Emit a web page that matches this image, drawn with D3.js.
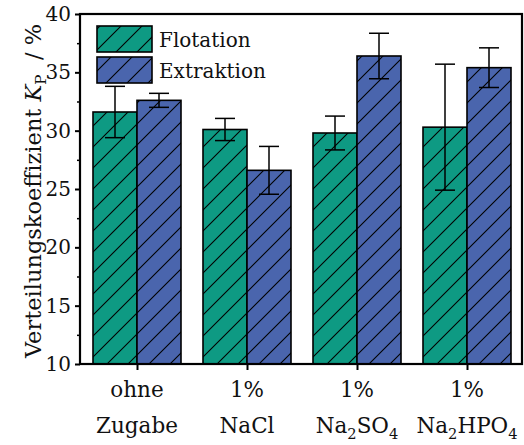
<!DOCTYPE html>
<html>
<head>
<meta charset="utf-8">
<script src="https://cdn.jsdelivr.net/npm/d3@7"></script>
<style>
  html, body { margin: 0; padding: 0; background: #fff; }
  svg { display: block; }
  text { font-family: "DejaVu Serif", "Liberation Serif", serif; fill: #111; }
</style>
</head>
<body>
<svg id="chart" width="524" height="445"></svg>
<script>
// Distribution coefficient K_P per additive, two methods
const categories = ["ohne Zugabe", "1% NaCl", "1% Na2SO4", "1% Na2HPO4"];
const seriesNames = ["Flotation", "Extraktion"];
const flotation = [31.6, 30.1, 29.8, 30.3];
const flotationErr = [2.2, 0.95, 1.45, 5.4];
const extraktion = [32.6, 26.6, 36.4, 35.4];
const extraktionErr = [0.6, 2.05, 1.95, 1.7];
const yTicks = [10, 15, 20, 25, 30, 35, 40];
const yMinorTicks = [12.5, 17.5, 22.5, 27.5, 32.5, 37.5];

const colors = ["#0e9a83", "#4a65ad"];
const values = [flotation, extraktion];
const errors = [flotationErr, extraktionErr];

const svg = d3.select("#chart");
const tickFont = 20, labelFont = 21.5, titleFont = 22.5, legendFont = 20;

const plotLeft = 80, plotRight = 522, plotTop = 14, plotBottom = 364;

const x = d3.scaleBand().domain(categories).range([plotLeft + 2, plotRight]).paddingInner(0.2).paddingOuter(0.1);
const xSub = d3.scaleBand().domain(seriesNames).range([0, x.bandwidth()]);
const y = d3.scaleLinear().domain([10, 40]).range([plotBottom, plotTop]);

// Hatch patterns: diagonal "/" lines over the fill colour
const defs = svg.append("defs");
colors.forEach((c, i) => {
  const p = defs.append("pattern")
    .attr("id", "hatch" + i)
    .attr("patternUnits", "userSpaceOnUse")
    .attr("width", 21).attr("height", 21);
  p.append("rect").attr("width", 21).attr("height", 21).attr("fill", c);
  p.append("path")
    .attr("d", "M-2,2 L2,-2 M0,21 L21,0 M19,23 L23,19")
    .attr("stroke", "#000").attr("stroke-width", 1.1);
});

// Bars
const groups = svg.append("g").selectAll("g").data(categories).join("g")
  .attr("transform", d => `translate(${x(d)},0)`);

seriesNames.forEach((s, si) => {
  groups.append("rect")
    .attr("x", xSub(s))
    .attr("width", xSub.bandwidth())
    .attr("y", (d, i) => y(values[si][i]))
    .attr("height", (d, i) => y(10) - y(values[si][i]))
    .attr("fill", `url(#hatch${si})`)
    .attr("stroke", "#000").attr("stroke-width", 1.6);
});

// Error bars
seriesNames.forEach((s, si) => {
  const g = groups.append("g").attr("stroke", "#000").attr("stroke-width", 1.5);
  const cx = xSub(s) + xSub.bandwidth() / 2;
  g.append("line")
    .attr("x1", cx).attr("x2", cx)
    .attr("y1", (d, i) => y(values[si][i] + errors[si][i]))
    .attr("y2", (d, i) => y(values[si][i] - errors[si][i]));
  [1, -1].forEach(sign => {
    g.append("line")
      .attr("x1", cx - 10).attr("x2", cx + 10)
      .attr("y1", (d, i) => y(values[si][i] + sign * errors[si][i]))
      .attr("y2", (d, i) => y(values[si][i] + sign * errors[si][i]));
  });
});

// Frame
svg.append("rect")
  .attr("x", plotLeft).attr("y", plotTop)
  .attr("width", plotRight - plotLeft).attr("height", plotBottom - plotTop)
  .attr("fill", "none").attr("stroke", "#000").attr("stroke-width", 2.2);

// Y axis
const yAxis = d3.axisLeft(y).tickValues(yTicks).tickSize(5).tickPadding(4);
const ya = svg.append("g").attr("transform", `translate(${plotLeft},0)`).call(yAxis);
ya.select(".domain").remove();
ya.selectAll(".tick line").attr("stroke", "#000").attr("stroke-width", 2);
ya.selectAll("text").style("font-size", tickFont + "px").attr("fill", "#111");
const yMinor = d3.axisLeft(y).tickValues(yMinorTicks).tickSize(3).tickFormat("");
const ym = svg.append("g").attr("transform", `translate(${plotLeft},0)`).call(yMinor);
ym.select(".domain").remove();
ym.selectAll(".tick line").attr("stroke", "#000").attr("stroke-width", 1.5);

// X axis ticks at group centres
const xCenter = d3.scalePoint().domain(categories).range([x(categories[0]) + x.bandwidth() / 2, x(categories[3]) + x.bandwidth() / 2]);
const xAxis = d3.axisBottom(xCenter).tickSize(6).tickFormat("");
const xa = svg.append("g").attr("transform", `translate(0,${plotBottom})`).call(xAxis);
xa.select(".domain").remove();
xa.selectAll(".tick line").attr("stroke", "#000").attr("stroke-width", 2);

// Category labels (two lines, chemical formulas with subscripts)
const labelLines = [
  [[["ohne", 0]], [["Zugabe", 0]]],
  [[["1%", 0]], [["NaCl", 0]]],
  [[["1%", 0]], [["Na", 0], ["2", 1], ["SO", 0], ["4", 1]]],
  [[["1%", 0]], [["Na", 0], ["2", 1], ["HPO", 0], ["4", 1]]]
];
categories.forEach((c, i) => {
  const cx = xCenter(c);
  labelLines[i].forEach((line, li) => {
    const t = svg.append("text")
      .attr("x", cx).attr("y", li === 0 ? 397 : 433)
      .attr("text-anchor", "middle")
      .style("font-size", labelFont + "px");
    line.forEach(([str, sub], k) => {
      const ts = t.append("tspan").text(str);
      if (sub) ts.attr("dy", 6).style("font-size", (labelFont * 0.68) + "px");
      else if (k > 0) ts.attr("dy", -6);
    });
  });
});

// Y axis title
const title = svg.append("text")
  .attr("transform", `translate(41,${(plotTop + plotBottom) / 2 + 2}) rotate(-90)`)
  .attr("text-anchor", "middle")
  .style("font-size", titleFont + "px");
title.append("tspan").text("Verteilungskoeffizient ");
title.append("tspan").text("K").style("font-style", "italic");
title.append("tspan").text("P").attr("dy", 5).style("font-size", (titleFont * 0.68) + "px");
title.append("tspan").text("\u00a0 / %").attr("dy", -5);

// Legend
const legend = svg.append("g");
seriesNames.forEach((s, i) => {
  const ly = 26 + i * 31;
  legend.append("rect")
    .attr("x", 97).attr("y", ly).attr("width", 55).attr("height", 26)
    .attr("fill", `url(#hatch${i})`)
    .attr("stroke", "#000").attr("stroke-width", 1.6);
  legend.append("text")
    .attr("x", 159).attr("y", ly + 20.5)
    .style("font-size", legendFont + "px")
    .text(s);
});
</script>
</body>
</html>
